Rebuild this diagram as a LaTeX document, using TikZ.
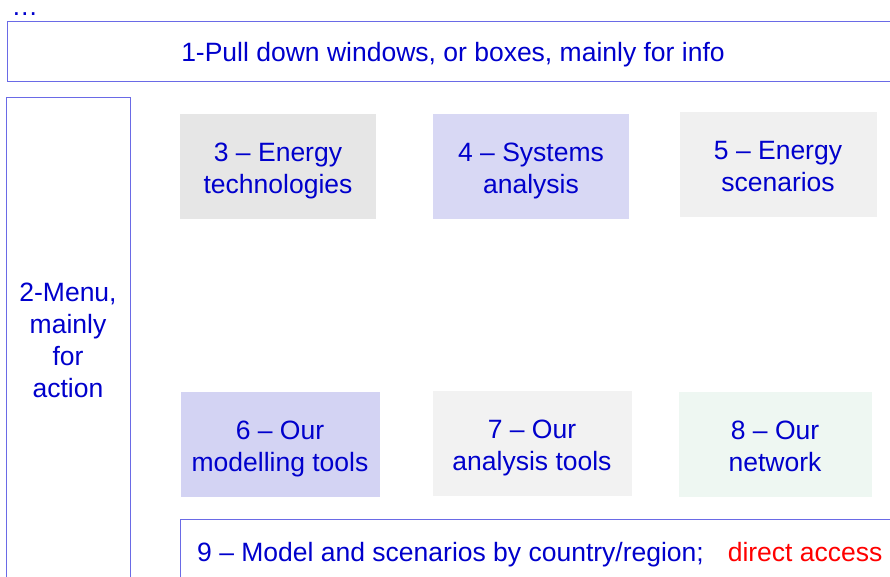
\documentclass[tikz,border=0pt]{standalone}
\usepackage{fontspec}
\setmainfont{Liberation Sans}
\definecolor{txtblue}{HTML}{0000CC}
\definecolor{edgeblue}{HTML}{6A6AE6}
\definecolor{fillA}{HTML}{E6E6E6}
\definecolor{fillB}{HTML}{D8D8F4}
\definecolor{fillC}{HTML}{F0F0F0}
\definecolor{fillD}{HTML}{D3D3F3}
\definecolor{fillE}{HTML}{F2F2F2}
\definecolor{fillF}{HTML}{EEF7F2}
\tikzset{
  lbl/.style={text=txtblue, font=\fontsize{26.5}{32}\selectfont, align=center, inner sep=0pt},
  frame/.style={draw=edgeblue, line width=1pt}
}
\begin{document}
\begin{tikzpicture}[x=1pt,y=-1pt]
\useasboundingbox (0,0) rectangle (890,576);
\clip (0,0) rectangle (890,576);
\node[lbl, anchor=base, text height=4pt, text depth=0pt] (dots) at (25,15) {\dots};
% box 1
\draw[frame] (7,21) rectangle (900,81);
\node[lbl] (t1) at (453,55) {1-Pull down windows, or boxes, mainly for info};
% box 2
\draw[frame] (6,97) rectangle (130,590);
\node[lbl] (t2) at (68,340) {2-Menu,\\mainly\\for\\action};
% tiles
\fill[fillA] (180,114) rectangle (376,219);
\node[lbl] (t3) at (278,171) {3 – Energy\\technologies};
\fill[fillB] (433,114) rectangle (629,219);
\node[lbl] (t4) at (531,171) {4 – Systems\\analysis};
\fill[fillC] (680,112) rectangle (877,217);
\node[lbl] (t5) at (778,167) {5 – Energy\\scenarios};
\fill[fillD] (181,392) rectangle (380,497);
\node[lbl] (t6) at (280,449) {6 – Our\\modelling tools};
\fill[fillE] (433,391) rectangle (632,496);
\node[lbl] (t7) at (532,448) {7 – Our\\analysis tools};
\fill[fillF] (679,392) rectangle (872,497);
\node[lbl] (t8) at (775,446) {8 – Our\\network};
% box 9
\draw[frame] (180,519) rectangle (900,590);
\node[lbl, anchor=west] (t9) at (197,555) {9 – Model and scenarios by country/region;\hspace{0.9em}\textcolor{red}{direct access}};
\end{tikzpicture}
\end{document}
